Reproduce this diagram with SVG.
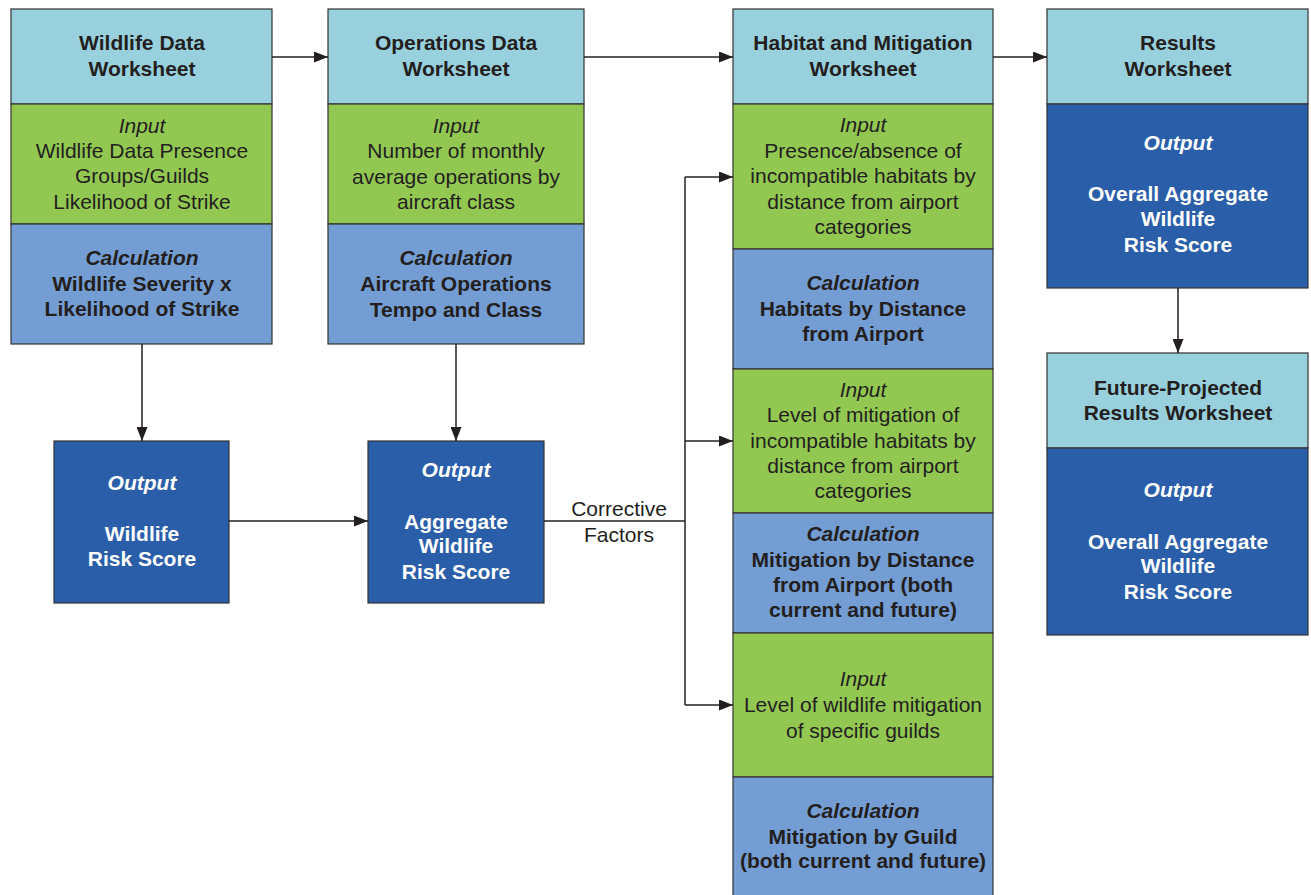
<svg xmlns="http://www.w3.org/2000/svg" width="1311" height="895" viewBox="0 0 1311 895">
<style>
text{font-family:"Liberation Sans",Arial,sans-serif;font-size:21px;text-anchor:middle;fill:#231f20}
.b{font-weight:bold}
.i{font-style:italic}
.bi{font-weight:bold;font-style:italic}
.w{fill:#ffffff}
.hd{fill:#99d0de;stroke:#333;stroke-width:1.2}
.in{fill:#92c852;stroke:#333;stroke-width:1.2}
.ca{fill:#739dd3;stroke:#333;stroke-width:1.2}
.ou{fill:#2a5ea8;stroke:#333;stroke-width:1.2}
.ln{fill:none;stroke:#231f20;stroke-width:1.5}
</style>
<defs>
<marker id="ah" viewBox="0 0 14 11" refX="14" refY="5.5" markerWidth="14" markerHeight="11" markerUnits="userSpaceOnUse" orient="auto">
<path d="M0,0 L14,5.5 L0,11 Z" fill="#231f20"/>
</marker>
</defs>
<rect width="1311" height="895" fill="#ffffff"/>

<g id="wildlife-data">
<rect class="hd" x="11" y="9" width="261" height="95"/>
<rect class="in" x="11" y="104" width="261" height="120"/>
<rect class="ca" x="11" y="224" width="261" height="120"/>
<text class="b" x="142" y="50">Wildlife Data</text>
<text class="b" x="142" y="76">Worksheet</text>
<text class="i" x="142" y="133">Input</text>
<text x="142" y="158">Wildlife Data Presence</text>
<text x="142" y="183">Groups/Guilds</text>
<text x="142" y="209">Likelihood of Strike</text>
<text class="bi" x="142" y="265">Calculation</text>
<text class="b" x="142" y="291">Wildlife Severity x</text>
<text class="b" x="142" y="316">Likelihood of Strike</text>
</g>

<g id="operations-data">
<rect class="hd" x="328" y="9" width="256" height="95"/>
<rect class="in" x="328" y="104" width="256" height="120"/>
<rect class="ca" x="328" y="224" width="256" height="120"/>
<text class="b" x="456" y="50">Operations Data</text>
<text class="b" x="456" y="76">Worksheet</text>
<text class="i" x="456" y="133">Input</text>
<text x="456" y="158">Number of monthly</text>
<text x="456" y="184">average operations by</text>
<text x="456" y="209">aircraft class</text>
<text class="bi" x="456" y="265">Calculation</text>
<text class="b" x="456" y="291">Aircraft Operations</text>
<text class="b" x="456" y="317">Tempo and Class</text>
</g>

<g id="habitat-mitigation">
<rect class="hd" x="733" y="9" width="260" height="95"/>
<rect class="in" x="733" y="104" width="260" height="145"/>
<rect class="ca" x="733" y="249" width="260" height="120"/>
<rect class="in" x="733" y="369" width="260" height="144"/>
<rect class="ca" x="733" y="513" width="260" height="120"/>
<rect class="in" x="733" y="633" width="260" height="144"/>
<rect class="ca" x="733" y="777" width="260" height="120"/>
<text class="b" x="863" y="50">Habitat and Mitigation</text>
<text class="b" x="863" y="76">Worksheet</text>
<text class="i" x="863" y="132">Input</text>
<text x="863" y="158">Presence/absence of</text>
<text x="863" y="183">incompatible habitats by</text>
<text x="863" y="209">distance from airport</text>
<text x="863" y="234">categories</text>
<text class="bi" x="863" y="290">Calculation</text>
<text class="b" x="863" y="316">Habitats by Distance</text>
<text class="b" x="863" y="341">from Airport</text>
<text class="i" x="863" y="397">Input</text>
<text x="863" y="422">Level of mitigation of</text>
<text x="863" y="448">incompatible habitats by</text>
<text x="863" y="473">distance from airport</text>
<text x="863" y="498">categories</text>
<text class="bi" x="863" y="541">Calculation</text>
<text class="b" x="863" y="567">Mitigation by Distance</text>
<text class="b" x="863" y="592">from Airport (both</text>
<text class="b" x="863" y="617">current and future)</text>
<text class="i" x="863" y="686">Input</text>
<text x="863" y="712">Level of wildlife mitigation</text>
<text x="863" y="738">of specific guilds</text>
<text class="bi" x="863" y="818">Calculation</text>
<text class="b" x="863" y="844">Mitigation by Guild</text>
<text class="b" x="863" y="868">(both current and future)</text>
</g>

<g id="results">
<rect class="hd" x="1047" y="9" width="261" height="95"/>
<rect class="ou" x="1047" y="104" width="261" height="184"/>
<text class="b" x="1178" y="50">Results</text>
<text class="b" x="1178" y="76">Worksheet</text>
<text class="bi w" x="1178" y="150">Output</text>
<text class="b w" x="1178" y="201">Overall Aggregate</text>
<text class="b w" x="1178" y="226">Wildlife</text>
<text class="b w" x="1178" y="252">Risk Score</text>
</g>

<g id="future-results">
<rect class="hd" x="1047" y="353" width="261" height="95"/>
<rect class="ou" x="1047" y="448" width="261" height="187"/>
<text class="b" x="1178" y="395">Future-Projected</text>
<text class="b" x="1178" y="420">Results Worksheet</text>
<text class="bi w" x="1178" y="497">Output</text>
<text class="b w" x="1178" y="549">Overall Aggregate</text>
<text class="b w" x="1178" y="573">Wildlife</text>
<text class="b w" x="1178" y="599">Risk Score</text>
</g>

<g id="wildlife-risk-score">
<rect class="ou" x="54" y="441" width="175" height="162"/>
<text class="bi w" x="142" y="490">Output</text>
<text class="b w" x="142" y="541">Wildlife</text>
<text class="b w" x="142" y="566">Risk Score</text>
</g>

<g id="aggregate-risk-score">
<rect class="ou" x="368" y="441" width="176" height="162"/>
<text class="bi w" x="456" y="477">Output</text>
<text class="b w" x="456" y="529">Aggregate</text>
<text class="b w" x="456" y="553">Wildlife</text>
<text class="b w" x="456" y="579">Risk Score</text>
</g>

<g id="connectors">
<line class="ln" x1="272" y1="57" x2="328" y2="57" marker-end="url(#ah)"/>
<line class="ln" x1="584" y1="57" x2="733" y2="57" marker-end="url(#ah)"/>
<line class="ln" x1="993" y1="57" x2="1047" y2="57" marker-end="url(#ah)"/>
<line class="ln" x1="142" y1="344" x2="142" y2="441" marker-end="url(#ah)"/>
<line class="ln" x1="456" y1="344" x2="456" y2="441" marker-end="url(#ah)"/>
<line class="ln" x1="229" y1="521" x2="368" y2="521" marker-end="url(#ah)"/>
<line class="ln" x1="1178" y1="288" x2="1178" y2="353" marker-end="url(#ah)"/>
<line class="ln" x1="544" y1="521" x2="685" y2="521"/>
<line class="ln" x1="685" y1="177" x2="685" y2="705"/>
<line class="ln" x1="685" y1="177" x2="733" y2="177" marker-end="url(#ah)"/>
<line class="ln" x1="685" y1="441" x2="733" y2="441" marker-end="url(#ah)"/>
<line class="ln" x1="685" y1="705" x2="733" y2="705" marker-end="url(#ah)"/>
<text x="619" y="516">Corrective</text>
<text x="619" y="542">Factors</text>
</g>
</svg>
